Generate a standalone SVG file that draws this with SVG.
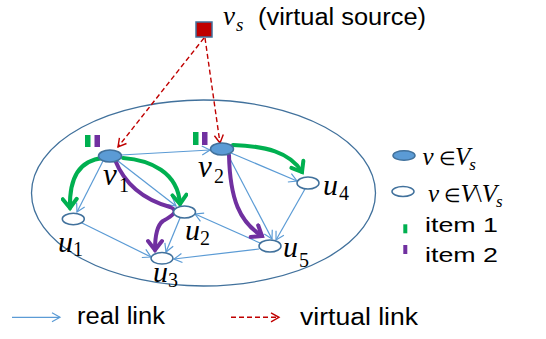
<svg xmlns="http://www.w3.org/2000/svg" width="546" height="339" viewBox="0 0 546 339">
<style>
.t{font-family:"Liberation Sans",Arial,sans-serif;fill:#000}
.m{font-family:"Liberation Serif","Times New Roman",serif;font-style:italic;fill:#000}
.r{font-style:normal}
.blue{fill:none;stroke:#5B9BD5;stroke-width:1.2}
.red{fill:none;stroke:#C00000;stroke-width:1.4;stroke-dasharray:5,3}
.grn{fill:none;stroke:#00B050;stroke-width:4;stroke-linecap:round}
.pur{fill:none;stroke:#7030A0;stroke-width:4;stroke-linecap:round}
.fn{fill:#5B9BD5;stroke:#41719C;stroke-width:1.5}
.hn{fill:#fff;stroke:#41719C;stroke-width:1.5}
</style>
<defs>
<marker id="ab" markerUnits="userSpaceOnUse" markerWidth="12" markerHeight="12" viewBox="0 0 12 12" refX="10" refY="6" orient="auto">
<path d="M2,1.5 L10,6 L2,10.5" fill="none" stroke="#5B9BD5" stroke-width="1.2"/>
</marker>
<marker id="ar" markerUnits="userSpaceOnUse" markerWidth="12" markerHeight="12" viewBox="0 0 12 12" refX="10" refY="6" orient="auto">
<path d="M2,1.5 L10,6 L2,10.5" fill="none" stroke="#C00000" stroke-width="1.4"/>
</marker>
<marker id="ag" markerUnits="userSpaceOnUse" markerWidth="16" markerHeight="18" viewBox="0 0 16 18" refX="12" refY="9" orient="auto">
<path d="M3,2 L12,9 L3,16" fill="none" stroke="#00B050" stroke-width="4" stroke-linecap="round"/>
</marker>
<marker id="ap" markerUnits="userSpaceOnUse" markerWidth="16" markerHeight="18" viewBox="0 0 16 18" refX="12" refY="9" orient="auto">
<path d="M3,2 L12,9 L3,16" fill="none" stroke="#7030A0" stroke-width="4" stroke-linecap="round"/>
</marker>
</defs>

<g id="network-boundary">
<ellipse cx="203.5" cy="193" rx="172" ry="93" fill="none" stroke="#41719C" stroke-width="1.3"/>
</g>

<g id="connectors">
<path class="blue" marker-end="url(#ab)" d="M121,155 L210,150"/>
<path class="blue" marker-end="url(#ab)" d="M103,161 L77,212"/>
<path class="blue" marker-end="url(#ab)" d="M118,161 L176,206"/>
<path class="blue" marker-end="url(#ab)" d="M231,153 L297,181"/>
<path class="blue" marker-end="url(#ab)" d="M228,155 L272,239"/>
<path class="blue" marker-end="url(#ab)" d="M305,189 L276,240"/>
<path class="blue" marker-end="url(#ab)" d="M260,243 L195,214"/>
<path class="blue" marker-end="url(#ab)" d="M259,249 L174,259"/>
<path class="blue" marker-end="url(#ab)" d="M82,223 L151,257"/>
<path class="blue" marker-end="url(#ab)" d="M180,218 L166,252"/>
<path class="red" marker-end="url(#ar)" d="M204,38 L118,147"/>
<path class="red" marker-end="url(#ar)" d="M205,38 L220,143"/>
<path class="grn" marker-end="url(#ag)" d="M103,158 C82,160 69,175 70,208"/>
<path class="grn" marker-end="url(#ag)" d="M123,158 C150,160 178,172 180,204"/>
<path class="grn" marker-end="url(#ag)" d="M233,145 C265,146 290,152 302,172"/>
<path class="pur" marker-end="url(#ap)" d="M115,160 C125,185 145,200 170,207 C180,211 172,216 163,221 C156,226 155,238 155,250"/>
<path class="pur" marker-end="url(#ap)" d="M229,155 C230,200 240,222 262,236"/>
</g>

<g id="vs">
<rect x="196" y="22" width="16" height="15" fill="#C00000" stroke="#41719C" stroke-width="1.5"/>
<text class="m" x="223" y="25" font-size="27">v<tspan dx="1" dy="6" font-size="19">s</tspan></text>
<text class="t" x="258" y="25" font-size="23" textLength="168" lengthAdjust="spacingAndGlyphs">(virtual source)</text>
</g>

<g id="v1">
<rect x="85" y="135" width="5.5" height="12" fill="#00B050"/>
<rect x="94.5" y="135" width="5.5" height="12" fill="#7030A0"/>
<ellipse class="fn" cx="110" cy="156" rx="11.5" ry="6"/>
<text class="m" x="103" y="185" font-size="31">v<tspan x="119" y="191.5" font-size="20" class="r">1</tspan></text>
</g>
<g id="v2">
<rect x="193" y="132" width="5.5" height="13" fill="#00B050"/>
<rect x="202" y="132" width="5.5" height="13" fill="#7030A0"/>
<ellipse class="fn" cx="222" cy="149" rx="11.5" ry="6"/>
<text class="m" x="198" y="176.5" font-size="31">v<tspan x="214" y="183" font-size="20" class="r">2</tspan></text>
</g>
<g id="u1">
<ellipse class="hn" cx="73.3" cy="219" rx="11" ry="5.7"/>
<text class="m" x="58" y="252" font-size="30">u<tspan x="73" y="256" font-size="20" class="r">1</tspan></text>
</g>
<g id="u2">
<ellipse class="hn" cx="184.5" cy="212" rx="11" ry="6"/>
<text class="m" x="185" y="240" font-size="30">u<tspan x="200" y="245" font-size="20" class="r">2</tspan></text>
</g>
<g id="u3">
<ellipse class="hn" cx="162" cy="258.3" rx="11" ry="5.7"/>
<text class="m" x="153" y="281.5" font-size="30">u<tspan x="168" y="286.5" font-size="20" class="r">3</tspan></text>
</g>
<g id="u4">
<ellipse class="hn" cx="308" cy="183" rx="11" ry="6"/>
<text class="m" x="323" y="195" font-size="30">u<tspan x="339" y="200" font-size="20" class="r">4</tspan></text>
</g>
<g id="u5">
<ellipse class="hn" cx="270" cy="246" rx="11" ry="6"/>
<text class="m" x="283" y="256.5" font-size="30">u<tspan x="299" y="266.5" font-size="20" class="r">5</tspan></text>
</g>

<g id="legend">
<ellipse class="fn" cx="404" cy="155.5" rx="11" ry="4.8"/>
<text class="m" x="422.5" y="165" font-size="25">v<tspan x="438.5" font-size="19" class="r">∈</tspan><tspan x="455">V</tspan><tspan dx="-1" dy="5" font-size="17">s</tspan></text>
<ellipse class="hn" cx="403" cy="191.5" rx="11" ry="5"/>
<text class="m" x="428" y="201.5" font-size="25">v<tspan x="444" font-size="19" class="r">∈</tspan><tspan x="460.5">V</tspan><tspan dx="-1" class="r">\</tspan><tspan>V</tspan><tspan dx="-1" dy="5" font-size="17">s</tspan></text>
<rect x="403.3" y="224.3" width="4" height="9" fill="#00B050"/>
<text class="t" x="425" y="231.5" font-size="21" textLength="73" lengthAdjust="spacingAndGlyphs">item 1</text>
<rect x="403.3" y="245" width="4" height="9" fill="#7030A0"/>
<text class="t" x="425" y="261.5" font-size="21" textLength="73" lengthAdjust="spacingAndGlyphs">item 2</text>
<path class="blue" marker-end="url(#ab)" d="M12,317.3 L60,317.3"/>
<text class="t" x="77" y="323.5" font-size="23" textLength="88" lengthAdjust="spacingAndGlyphs">real link</text>
<path class="red" marker-end="url(#ar)" d="M231,317.3 L279,317.3"/>
<text class="t" x="300" y="324.5" font-size="23" textLength="118" lengthAdjust="spacingAndGlyphs">virtual link</text>
</g>
</svg>
